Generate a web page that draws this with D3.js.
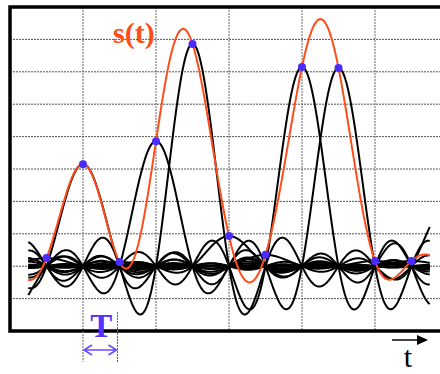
<!DOCTYPE html>
<html>
<head>
<meta charset="utf-8">
<script src="https://cdn.jsdelivr.net/npm/d3@7"></script>
<style>
  html, body { margin: 0; padding: 0; background: #fff; }
  svg { display: block; }
</style>
</head>
<body>
<svg id="chart" width="440" height="374"></svg>
<script>
// sample index (in units of T) and sample values
const sampleIndex = [0, 1, 2, 3, 4, 5, 6, 7, 8, 9, 10];
const sampleValues = [0.25, 3.15, 0.13, 3.86, 6.86, 0.93, 0.35, 6.15, 6.12, 0.16, 0.16];
// samples outside the frame, estimated from the curve tails at the edges
const outerIndex = [-3, -2, -1, 11, 12, 13];
const outerValues = [2.0, -3.5, -1.4, 1.9, 5.5, -2.0];
const curveRange = [-0.5, 10.5];
const gridX = [-1, 1, 3, 5, 7, 9, 11];
const gridY = [-1, 0, 1, 2, 3, 4, 5, 6, 7];

const width = 440, height = 374;
const svg = d3.select('#chart');

const x = d3.scaleLinear().domain([-1, 11]).range([10, 448]);
const y = d3.scaleLinear().domain([-2, 8]).range([331, 7]);

const sinc = u => u === 0 ? 1 : Math.sin(Math.PI * u) / (Math.PI * u);
const ts = d3.range(curveRange[0], curveRange[1] + 0.001, 0.02);

// grid
svg.append('g').selectAll('line')
  .data(gridY)
  .join('line')
  .attr('x1', x(-1)).attr('x2', width)
  .attr('y1', d => y(d)).attr('y2', d => y(d))
  .attr('stroke', '#555').attr('stroke-width', 1)
  .attr('stroke-dasharray', '2,1');

svg.append('g').selectAll('line')
  .data(gridX)
  .join('line')
  .attr('x1', d => x(d)).attr('x2', d => x(d))
  .attr('y1', y(8)).attr('y2', y(-2))
  .attr('stroke', '#666').attr('stroke-width', 1)
  .attr('stroke-dasharray', '2,1');

// sinc components
const allIndex = outerIndex.concat(sampleIndex);
const allValues = outerValues.concat(sampleValues);
const line = d3.line().x(d => x(d[0])).y(d => y(d[1]));
svg.append('g').selectAll('path')
  .data(allIndex)
  .join('path')
  .attr('d', (n, i) => line(ts.map(t => [t, allValues[i] * sinc(t - n)])))
  .attr('fill', 'none')
  .attr('stroke', '#000')
  .attr('stroke-width', 2);

// reconstructed signal
svg.append('path')
  .attr('d', line(ts.map(t => [t, d3.sum(sampleIndex, (n, i) => sampleValues[i] * sinc(t - n))])))
  .attr('fill', 'none')
  .attr('stroke', '#ff4d1a')
  .attr('stroke-width', 2);

// samples
svg.append('g').selectAll('circle')
  .data(sampleIndex)
  .join('circle')
  .attr('cx', d => x(d))
  .attr('cy', (d, i) => y(sampleValues[i]))
  .attr('r', 4)
  .attr('fill', '#4a2cff');

// frame
svg.append('path')
  .attr('d', `M${width},${y(8)}H${x(-1)}V${y(-2)}H${width}`)
  .attr('fill', 'none')
  .attr('stroke', '#000')
  .attr('stroke-width', 3.5);

// T marker
const tA = x(1), tB = x(2) - 2;
svg.append('line')
  .attr('x1', tA).attr('x2', tA).attr('y1', y(-2)).attr('y2', 362)
  .attr('stroke', '#666').attr('stroke-dasharray', '2,1');
svg.append('line')
  .attr('x1', tB).attr('x2', tB).attr('y1', 312).attr('y2', 362)
  .attr('stroke', '#666').attr('stroke-dasharray', '2,1');
svg.append('path')
  .attr('d', `M${tA + 1},350H${tB - 1}M${tA + 9},345L${tA + 1},350L${tA + 9},355M${tB - 9},345L${tB - 1},350L${tB - 9},355`)
  .attr('fill', 'none')
  .attr('stroke', '#6a4cff')
  .attr('stroke-width', 1.6);
svg.append('text')
  .attr('x', (tA + tB) / 2 + 1).attr('y', 337)
  .attr('text-anchor', 'middle')
  .attr('font-family', 'Liberation Serif, serif')
  .attr('font-weight', 'bold')
  .attr('font-size', 33)
  .attr('fill', '#5433ff')
  .text('T');

// s(t) label
svg.append('text')
  .attr('x', 113).attr('y', 43)
  .attr('font-family', 'Liberation Serif, serif')
  .attr('font-weight', 'bold')
  .attr('font-size', 30)
  .attr('fill', '#ff4d1a')
  .text('s(t)');

// t axis label with arrow
svg.append('line')
  .attr('x1', 392).attr('x2', 419).attr('y1', 340).attr('y2', 340)
  .attr('stroke', '#000').attr('stroke-width', 1.5);
svg.append('path')
  .attr('d', 'M417,335L428,340L417,345Z')
  .attr('fill', '#000');
svg.append('text')
  .attr('x', 408).attr('y', 367)
  .attr('text-anchor', 'middle')
  .attr('font-family', 'Liberation Serif, serif')
  .attr('font-size', 30)
  .attr('fill', '#000')
  .text('t');
</script>
</body>
</html>
